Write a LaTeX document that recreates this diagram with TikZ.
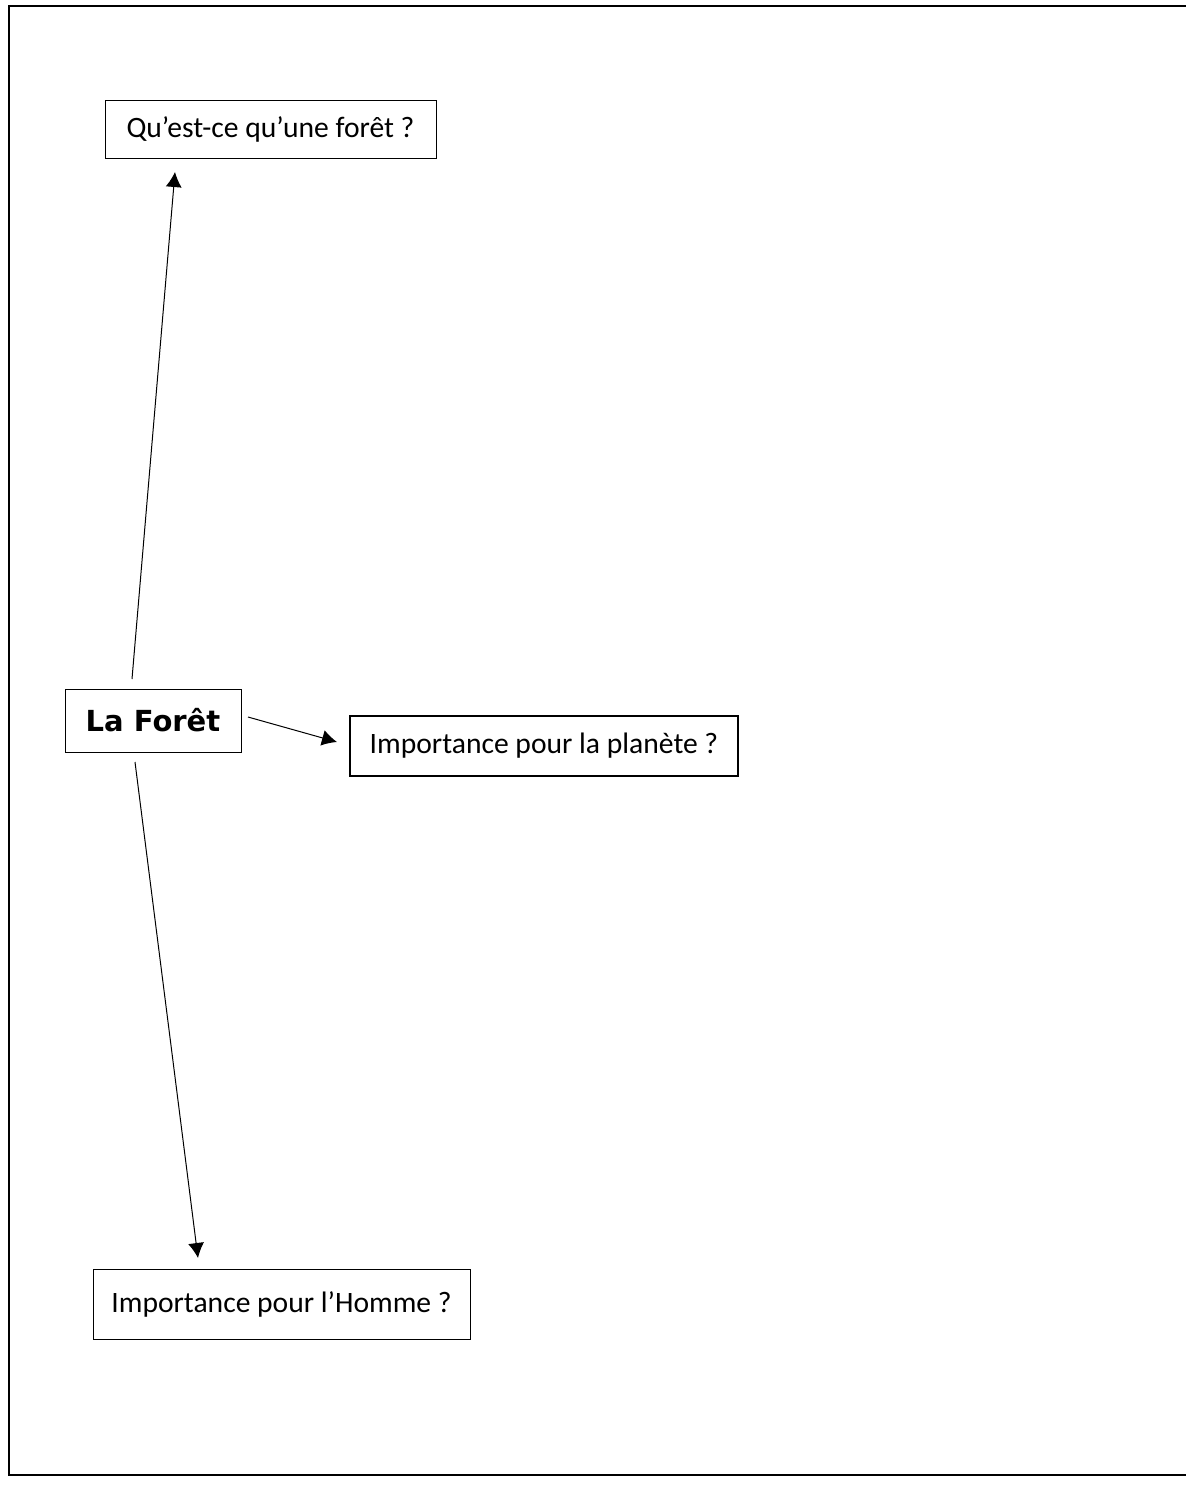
\documentclass[tikz,border=0pt]{standalone}
\usepackage{fontspec}
\setmainfont{Carlito}
\newfontfamily\verdfont{DejaVu Sans}
\usetikzlibrary{arrows.meta}
\tikzset{
  boite/.style={draw, line width=0.5pt, inner sep=0pt, font=\fontsize{14.8}{17}\selectfont},
}
\begin{document}
\begin{tikzpicture}[x=0.5pt, y=-0.5pt, >={Latex[length=7.5pt,width=8pt]}]
\useasboundingbox (0,0) rectangle (1186,1506);
\draw[line width=1pt] (8.5,5.5) rectangle (1200,1475);

\node[boite, minimum width=165.5pt, minimum height=29pt] (question) at (270.5,129) {Qu’est-ce qu’une forêt ?};
\node[boite, minimum width=88pt, minimum height=31.5pt, font=\verdfont\bfseries\fontsize{14.5}{17}\selectfont] (foret) at (153,720.5) {La Forêt};
\node[boite, line width=1pt, minimum width=194pt, minimum height=30pt] (planete) at (544,746) {Importance pour la planète ?};
\node[boite, minimum width=188.5pt, minimum height=35pt] (homme) at (281.5,1304) {Importance pour l’Homme ?};

% bouts des fleches
\coordinate (q1) at (132,679);  \coordinate (q2) at (175,172);
\coordinate (p1) at (248,717);  \coordinate (p2) at (337,742);
\coordinate (h1) at (135,762);  \coordinate (h2) at (198,1258);

\draw[->, line width=0.5pt] (q1)--(q2);
\draw[->, line width=0.5pt] (p1)--(p2);
\draw[->, line width=0.5pt] (h1)--(h2);

\end{tikzpicture}
\end{document}
